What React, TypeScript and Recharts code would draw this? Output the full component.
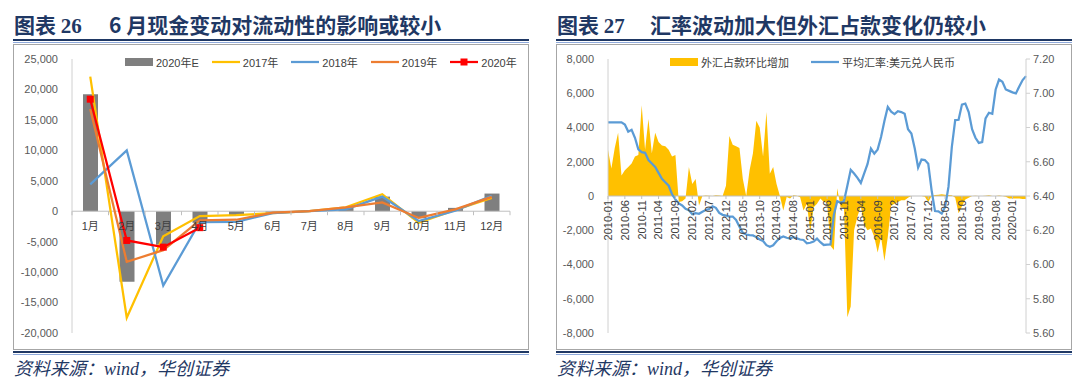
import React from 'react'
import {
  ComposedChart,
  Bar,
  Line,
  Area,
  XAxis,
  YAxis,
  ReferenceLine,
} from 'recharts'

// ─── 图表26 data ───────────────────────────────────────────────────────────

const months = ['1月', '2月', '3月', '4月', '5月', '6月', '7月', '8月', '9月', '10月', '11月', '12月']
const est2020E = [19200, -11600, -5500, -1900, -700, -250, -100, 700, 2400, -1150, 550, 2900]
const y2017 = [22100, -17500, -4100, -800, -650, -300, 0, 650, 2800, -1900, 200, 2200]
const y2018 = [4400, 10000, -12200, -1800, -1750, -300, 0, 300, 2400, -1600, 100, 2550]
const y2019 = [16800, -8300, -6400, -1500, -1400, -250, 0, 650, 1450, -1100, 300, 2350]
const y2020 = [18400, -4800, -5900, -2700, null, null, null, null, null, null, null, null]
const leftTicks = [-20000, -15000, -10000, -5000, 0, 5000, 10000, 15000, 20000, 25000]

// ─── 图表27 data ───────────────────────────────────────────────────────────

const fxMonths: string[] = []
for (let y = 2010; y <= 2020; y++) {
  for (let m = 1; m <= 12; m++) {
    if (y === 2020 && m > 5) break
    fxMonths.push(`${y}-${String(m).padStart(2, '0')}`)
  }
}

// 外汇占款环比增加（亿元）
const fxChange = [
  // 2010
  2700, 1600, 2800, 3700, 1200, 1500, 1700, 1900, 2300, 2400, 5300, 2700,
  // 2011
  4500, 2500, 3700, 3150, 2950, 2900, 2700, 2300, 2400, -350, -300, -150,
  // 2012
  1700, 700, 1000, -550, 0, 30, 20, 0, 50, 30, 0, 600,
  // 2013
  3500, 3000, 2900, 2800, 1000, 0, 1500, 2500, 4400, 4000, 2300, 4900,
  // 2014
  1300, 1700, 700, 0, -850, -60, -150, 50, 20, -80, -850, -450,
  // 2015
  -2100, -650, -450, -150, -350, -400, -2900, -3150, 450, -650, -700, -7080,
  // 2016
  -6450, -2000, -1200, -600, -1700, -2000, -1900, -2400, -3300, -2400, -3800, -2400,
  // 2017
  -550, -450, -350, -250, -250, -100, 0, 0, 0, 0, -50, -350,
  // 2018
  0, 60, 80, 100, 80, 60, 50, -100, -1000, -600, -200, -100,
  // 2019
  0, 20, 0, 0, 20, 50, 0, 0, 30, 0, -50, -150,
  // 2020
  -150, -150, -150, -180, -180,
]

// 平均汇率:美元兑人民币
const usdCny = [
  6.83, 6.83, 6.83, 6.83, 6.83, 6.817, 6.776, 6.787, 6.74, 6.673, 6.656, 6.652,
  6.61, 6.59, 6.57, 6.535, 6.5, 6.48, 6.46, 6.41, 6.38, 6.357, 6.345, 6.325,
  6.317, 6.294, 6.3, 6.296, 6.308, 6.318, 6.324, 6.34, 6.331, 6.301, 6.29, 6.286,
  6.28, 6.28, 6.26, 6.22, 6.185, 6.175, 6.172, 6.17, 6.16, 6.146, 6.137, 6.113,
  6.104, 6.112, 6.136, 6.155, 6.164, 6.156, 6.151, 6.16, 6.153, 6.146, 6.143, 6.124,
  6.127, 6.134, 6.151, 6.13, 6.114, 6.116, 6.117, 6.29, 6.37, 6.36, 6.37, 6.46,
  6.553, 6.531, 6.506, 6.476, 6.532, 6.587, 6.677, 6.647, 6.672, 6.744, 6.838, 6.92,
  6.892, 6.878, 6.895, 6.89, 6.88, 6.79, 6.765, 6.677, 6.566, 6.613, 6.61, 6.589,
  6.433, 6.312, 6.31, 6.297, 6.336, 6.453, 6.687, 6.843, 6.845, 6.934, 6.94, 6.89,
  6.79, 6.74, 6.71, 6.715, 6.853, 6.886, 6.88, 7.022, 7.08, 7.067, 7.022, 7.014,
  7.005, 6.999, 7.04, 7.077, 7.1,
]
const fxTicks = [-8000, -6000, -4000, -2000, 0, 2000, 4000, 6000, 8000]
const rateTicks = [5.6, 5.8, 6.0, 6.2, 6.4, 6.6, 6.8, 7.0, 7.2]

// ─── Constants ──────────────────────────────────────────────────────────────

const NAVY = '#1F3864'
const AXIS = '#BFBFBF'
const TICK_TEXT = '#595959'
const FONT = '"Liberation Sans", "Noto Sans CJK SC", sans-serif'
const CJK = '"Noto Sans CJK SC", sans-serif'

const PLOT_TOP = 59
const PLOT_H = 274
const LEFT_PLOT_W = 438

const COLORS = {
  est: '#7F7F7F',
  y2017: '#FFC000',
  y2018: '#5B9BD5',
  y2019: '#ED7D31',
  y2020: '#FF0000',
  fx: '#FFC000',
  rate: '#5B9BD5',
}

const leftTable = months.map((m, i) => ({
  month: m,
  est: est2020E[i],
  y2017: y2017[i],
  y2018: y2018[i],
  y2019: y2019[i],
  y2020: y2020[i],
}))

const rightTable = fxMonths.map((m, i) => ({
  month: m,
  fx: fxChange[i],
  rate: usdCny[i],
}))

const zeroY = (min: number, max: number) => PLOT_TOP + PLOT_H * (max / (max - min))

// ─── Ticks ──────────────────────────────────────────────────────────────────

// eslint-disable-next-line @typescript-eslint/no-explicit-any
function MonthTick(props: any) {
  const { x, payload, index } = props
  const y0 = zeroY(-20000, 25000)
  const band = LEFT_PLOT_W / months.length
  return (
    <g>
      <line x1={x - band / 2} x2={x - band / 2} y1={y0} y2={y0 + 4} stroke={AXIS} />
      {index === months.length - 1 && (
        <line x1={x + band / 2} x2={x + band / 2} y1={y0} y2={y0 + 4} stroke={AXIS} />
      )}
      <text x={x} y={y0 + 19} textAnchor="middle" fontSize={11} fill="#404040" fontFamily={FONT}>
        {payload.value}
      </text>
    </g>
  )
}

// eslint-disable-next-line @typescript-eslint/no-explicit-any
function DateTick(props: any) {
  const { x, payload } = props
  const y0 = zeroY(-8000, 8000)
  return (
    <g>
      <line x1={x} x2={x} y1={y0} y2={y0 + 3} stroke={AXIS} />
      <text
        x={x}
        y={y0 + 4}
        dy="0.35em"
        transform={`rotate(-90, ${x}, ${y0 + 4})`}
        textAnchor="end"
        fontSize={11}
        fill="#404040"
        fontFamily={FONT}
      >
        {payload.value}
      </text>
    </g>
  )
}

// eslint-disable-next-line @typescript-eslint/no-explicit-any
function SquareDot(props: any) {
  const { cx, cy, index } = props
  if (cx == null || cy == null) return <g key={`d${index}`} />
  return <rect key={`d${index}`} x={cx - 3.5} y={cy - 3.5} width={7} height={7} fill={COLORS.y2020} />
}

// ─── Panel chrome ───────────────────────────────────────────────────────────

function Panel({ left, width, num, title }: { left: number; width: number; num: string; title: string }) {
  return (
    <>
      <div
        style={{
          position: 'absolute',
          left: left + 1,
          top: 10,
          fontFamily: CJK,
          fontWeight: 700,
          fontSize: 21,
          color: NAVY,
          whiteSpace: 'nowrap',
          lineHeight: '28px',
        }}
      >
        图表 <span style={{ fontFamily: '"Liberation Serif", serif' }}>{num}</span>
      </div>
      <div
        style={{
          position: 'absolute',
          left: left + (num === '26' ? 96 : 94),
          top: 10,
          fontFamily: CJK,
          fontWeight: 700,
          fontSize: 21,
          color: NAVY,
          whiteSpace: 'nowrap',
          lineHeight: '28px',
        }}
      >
        {title}
      </div>
      <div style={{ position: 'absolute', left, top: 39, width, height: 2, background: NAVY }} />
      <div style={{ position: 'absolute', left, top: 42, width, height: 1, background: '#8EA9DB' }} />
      <div
        style={{
          position: 'absolute',
          left,
          top: 44,
          width: width - 2,
          height: 304,
          border: '1px solid #A6A6A6',
        }}
      />
      <div style={{ position: 'absolute', left, top: 351, width, height: 2, background: NAVY }} />
      <div style={{ position: 'absolute', left, top: 354, width, height: 1, background: '#8EA9DB' }} />
      <div
        style={{
          position: 'absolute',
          left: left + 1,
          top: 357,
          fontFamily: '"Liberation Serif", "Noto Sans CJK SC", serif',
          fontStyle: 'italic',
          fontSize: 18,
          color: NAVY,
          whiteSpace: 'nowrap',
          lineHeight: '24px',
        }}
      >
        资料来源：wind，华创证券
      </div>
    </>
  )
}

type LegendItem = { label: string; color: string; kind: 'rect' | 'line' | 'marker' }

function LegendRow({ left, gap, items }: { left: number; gap: number; items: LegendItem[] }) {
  return (
    <div
      style={{
        position: 'absolute',
        left,
        top: 54,
        height: 16,
        display: 'flex',
        alignItems: 'center',
        gap,
        fontFamily: FONT,
        fontSize: 11,
        color: '#404040',
        whiteSpace: 'nowrap',
      }}
    >
      {items.map((it) => (
        <div key={it.label} style={{ display: 'flex', alignItems: 'center', gap: 3 }}>
          <svg width={28} height={10}>
            {it.kind === 'rect' ? (
              <rect x={0} y={1} width={28} height={8} fill={it.color} />
            ) : (
              <>
                <line x1={0} x2={28} y1={5} y2={5} stroke={it.color} strokeWidth={2.25} />
                {it.kind === 'marker' && <rect x={10.5} y={1.5} width={7} height={7} fill={it.color} />}
              </>
            )}
          </svg>
          <span>{it.label}</span>
        </div>
      ))}
    </div>
  )
}

// ─── Main ───────────────────────────────────────────────────────────────────

export default function App() {
  return (
    <div
      style={{
        position: 'absolute',
        left: 0,
        top: 0,
        width: 1080,
        height: 379,
        background: '#fff',
        overflow: 'hidden',
      }}
    >
      <Panel left={13} width={516} num="26" title="6 月现金变动对流动性的影响或较小" />
      <Panel left={556} width={516} num="27" title="汇率波动加大但外汇占款变化仍较小" />

      {/* ── 图表26 ─────────────────────────────── */}
      <div style={{ position: 'absolute', left: 0, top: 0 }}>
        <ComposedChart
          width={540}
          height={379}
          data={leftTable}
          margin={{ top: PLOT_TOP, right: 30, bottom: 26, left: 12 }}
          barCategoryGap={0}
        >
          <ReferenceLine y={0} stroke={AXIS} strokeWidth={1} ifOverflow="extendDomain" />
          <XAxis
            dataKey="month"
            height={20}
            axisLine={false}
            tickLine={false}
            interval={0}
            tick={(p) => <MonthTick {...p} />}
          />
          <YAxis
            width={60}
            domain={[-20000, 25000]}
            ticks={leftTicks}
            interval={0}
            axisLine={{ stroke: '#D0D0D0' }}
            tickLine={false}
            tickMargin={8}
            tick={{ fontSize: 11, fill: TICK_TEXT, fontFamily: FONT }}
            tickFormatter={(v: number) => v.toLocaleString('en-US')}
          />
          <Bar dataKey="est" fill={COLORS.est} barSize={15} isAnimationActive={false} />
          <Line dataKey="y2017" stroke={COLORS.y2017} strokeWidth={2.25} dot={false} isAnimationActive={false} />
          <Line dataKey="y2018" stroke={COLORS.y2018} strokeWidth={2.25} dot={false} isAnimationActive={false} />
          <Line dataKey="y2019" stroke={COLORS.y2019} strokeWidth={2.25} dot={false} isAnimationActive={false} />
          <Line
            dataKey="y2020"
            stroke={COLORS.y2020}
            strokeWidth={2.25}
            dot={(p) => <SquareDot {...p} />}
            isAnimationActive={false}
          />
        </ComposedChart>
      </div>
      <LegendRow
        left={125}
        gap={13}
        items={[
          { label: '2020年E', color: COLORS.est, kind: 'rect' },
          { label: '2017年', color: COLORS.y2017, kind: 'line' },
          { label: '2018年', color: COLORS.y2018, kind: 'line' },
          { label: '2019年', color: COLORS.y2019, kind: 'line' },
          { label: '2020年', color: COLORS.y2020, kind: 'marker' },
        ]}
      />

      {/* ── 图表27 ─────────────────────────────── */}
      <div style={{ position: 'absolute', left: 540, top: 0 }}>
        <ComposedChart
          width={540}
          height={379}
          data={rightTable}
          margin={{ top: PLOT_TOP, right: 14, bottom: 26, left: 8 }}
        >
          <XAxis
            dataKey="month"
            height={20}
            axisLine={false}
            tickLine={false}
            interval={4}
            tick={(p) => <DateTick {...p} />}
          />
          <YAxis
            yAxisId="fx"
            width={60}
            domain={[-8000, 8000]}
            ticks={fxTicks}
            interval={0}
            axisLine={{ stroke: '#D0D0D0' }}
            tickLine={false}
            tickMargin={8}
            tick={{ fontSize: 11, fill: TICK_TEXT, fontFamily: FONT }}
            tickFormatter={(v: number) => v.toLocaleString('en-US')}
          />
          <YAxis
            yAxisId="rate"
            orientation="right"
            width={40}
            domain={[5.6, 7.2]}
            ticks={rateTicks}
            interval={0}
            axisLine={{ stroke: '#D0D0D0' }}
            tickLine={{ stroke: '#D0D0D0' }}
            tickSize={4}
            tickMargin={3}
            tick={{ fontSize: 11, fill: TICK_TEXT, fontFamily: FONT }}
            tickFormatter={(v: number) => v.toFixed(2)}
          />
          <Area
            yAxisId="fx"
            dataKey="fx"
            type="linear"
            stroke="none"
            fill={COLORS.fx}
            fillOpacity={1}
            baseValue={0}
            isAnimationActive={false}
          />
          <ReferenceLine yAxisId="fx" y={0} stroke={AXIS} strokeWidth={1} />
          <Line
            yAxisId="rate"
            dataKey="rate"
            type="linear"
            stroke={COLORS.rate}
            strokeWidth={2.25}
            dot={false}
            isAnimationActive={false}
          />
        </ComposedChart>
      </div>
      <LegendRow
        left={670}
        gap={22}
        items={[
          { label: '外汇占款环比增加', color: COLORS.fx, kind: 'rect' },
          { label: '平均汇率:美元兑人民币', color: COLORS.rate, kind: 'line' },
        ]}
      />
    </div>
  )
}
